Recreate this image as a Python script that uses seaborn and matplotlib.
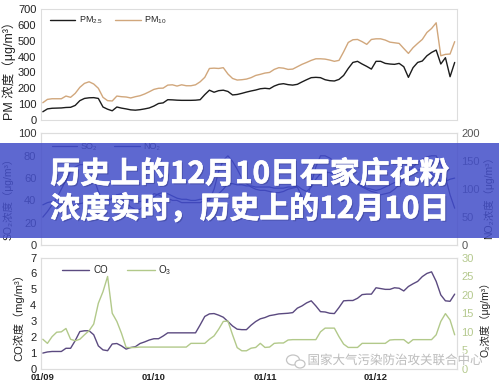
import matplotlib
matplotlib.use('Agg')
import matplotlib.pyplot as plt
import matplotlib.patheffects as pe
from matplotlib.patches import Rectangle, Ellipse
import pandas as pd
import seaborn as sns

# hourly values
pm25 = [52,70,74,75,76,79,80,92,122,136,
        140,141,136,82,68,58,82,75,70,64,
        62,65,70,76,88,104,108,128,127,125,
        124,124,124,125,128,160,188,175,185,188,
        180,158,161,168,176,183,189,197,200,197,
        214,225,229,223,220,225,240,254,267,269,
        267,254,248,246,256,281,325,363,370,353,
        338,321,370,370,357,353,351,357,336,269,
        330,363,372,405,426,441,353,393,273,363]
pm10 = [109,130,134,134,134,151,143,168,206,231,
        241,227,200,143,122,120,151,147,145,139,
        147,153,164,178,193,200,201,220,222,214,
        222,216,216,222,241,269,325,327,325,330,
        290,262,252,254,258,267,281,288,296,300,
        319,330,327,319,321,336,351,363,376,386,
        386,384,378,370,376,430,489,506,508,494,
        477,508,512,512,504,491,487,483,451,420,
        456,483,508,552,577,613,405,414,416,494]
so2 = [25,30,36,42,50,58,66,70,72,72,
       68,60,48,40,38,42,45,42,38,34,
       32,32,36,42,46,45,43,42,40,40,
       38,38,38,38,38,40,40,50,66,76,
       80,75,68,60,55,52,50,49,49,48,
       47,47,48,50,51,52,43,40,55,70,
       80,80,78,75,70,64,60,58,55,52,
       50,48,47,45,46,47,50,54,60,66,
       70,74,77,79,80,80,72,61,45,33]
no2 = [72,76,78,76,72,70,70,72,74,76,
       78,76,74,74,78,84,90,92,86,80,
       78,78,80,82,86,92,94,92,88,84,
       82,82,80,80,82,82,84,86,92,100,
       110,110,108,108,106,106,104,104,104,104,
       102,102,102,104,104,106,100,96,104,118,
       128,130,130,126,122,118,114,112,110,106,
       102,100,98,100,104,108,112,114,118,124,
       130,134,136,134,128,120,114,114,118,120]
co = [1.0,1.07,1.1,1.1,1.1,1.3,1.3,1.78,2.35,2.4,
      2.4,2.15,1.45,1.2,1.15,1.57,1.6,1.45,1.25,1.35,
      1.4,1.6,1.7,1.82,1.9,1.9,2.07,2.27,2.27,2.27,
      2.27,2.27,2.27,2.27,2.77,3.3,3.46,3.48,3.38,3.25,
      2.98,2.7,2.5,2.47,2.47,2.75,2.98,3.15,3.23,3.35,
      3.4,3.46,3.48,3.5,3.54,3.82,3.96,4.15,4.28,3.96,
      3.6,3.58,3.5,3.48,3.86,4.28,4.3,4.3,4.44,4.67,
      4.7,4.7,5.1,5.05,5.0,5.0,5.1,5.07,4.9,5.18,
      5.35,5.5,5.8,6.0,6.1,5.5,4.65,4.28,4.25,4.7]
o3 = [8,6.9,8.7,9.9,10,10.9,8,7.6,8,9.2,
      10.3,12.1,17.7,20.8,24.9,15,12.8,9.6,5.8,5.75,
      5.8,5.9,5.9,5.9,5.9,5.9,5.9,5.9,5.9,5.9,
      5.9,5.9,6.9,6.9,6.9,6.9,8,8.9,10.7,12.8,
      12.9,9.2,5.75,4.9,4.9,5.6,5.8,6.9,5.8,5.9,
      6.9,7,7,7.8,7.9,7.9,7.9,7.9,7.9,7.9,
      10,11,11,11,8.7,6.7,5.8,5.8,5.8,6.9,
      6.9,6.9,6.9,6.9,6.9,7.8,7.9,7.9,7.9,6.9,
      7.9,7.9,7.9,7.9,7.9,9.2,12.8,14.9,13.2,9.2]
hours = list(range(90))
day_labels = ['01/09', '01/10', '01/11', '01/12']
day_hours = [0, 24, 48, 72]
title_lines = ['历史上的12月10日石家庄花粉', '浓度实时，历史上的12月10日']
watermark = '国家大气污染防治攻关联合中心'

W, H = 499, 383
sns.set_theme(style='white')
plt.rcParams['font.family'] = ['Liberation Sans', 'Noto Sans CJK SC', 'DejaVu Sans']
plt.rcParams['mathtext.default'] = 'regular'
plt.rcParams['axes.unicode_minus'] = False

fig = plt.figure(figsize=(W / 100, H / 100), dpi=100)

def panel(top, bottom):
    # pixel box of one panel, same left and right for all three
    a = fig.add_axes([40.5 / W, 1 - bottom / H, (457 - 40.5) / W, (bottom - top) / H])
    return a

def style(a, ymax, step, color='#222222'):
    a.set_xlim(-0.5, 89.5)
    a.set_ylim(0, ymax)
    a.set_yticks(range(0, ymax + 1, step))
    a.tick_params(axis='y', labelsize=8, length=0, pad=3, labelcolor=color)
    a.set_xlabel('')
    a.set_ylabel('')
    for s in a.spines.values():
        s.set_color('#dddddd')
        s.set_linewidth(0.8)

def xticks(a, labels=False):
    a.set_xticks([d - 0.5 for d in day_hours])
    a.set_xticklabels([])
    a.tick_params(axis='x', which='major', length=2.5, width=0.7, color='#cccccc', direction='out')
    if labels:
        a.set_xticks(day_hours, minor=True)
        a.set_xticklabels(day_labels, minor=True, fontsize=6.8, fontweight='bold', color='#222222')
        a.tick_params(axis='x', which='minor', length=0, pad=3)

def draw(a, y, name, color, lw=1.0):
    df = pd.DataFrame({'hour': hours, 'value': y})
    sns.lineplot(data=df, x='hour', y='value', ax=a, color=color, linewidth=lw, label=name, legend=False)

# PM panel
ax1 = panel(9, 120)
draw(ax1, pm25, r'PM$_{2.5}$', '#1c1c1c')
draw(ax1, pm10, r'PM$_{10}$', '#d1a77c')
style(ax1, 700, 100)
xticks(ax1)
h, l = ax1.get_legend_handles_labels()
ax1.legend(h, l, loc='center left', bbox_to_anchor=(0.022, 0.895), frameon=False, ncol=2, fontsize=6.5,
           handlelength=2.8, handletextpad=0.4, columnspacing=1.4, borderaxespad=0, borderpad=0)
fig.text(9 / W, 1 - 68 / H, 'PM 浓度（μg/m³）', rotation=90, fontsize=9, va='center', ha='center', color='#222222')

# SO2 / NO2 panel
ax2 = panel(133.5, 245)
ax2b = ax2.twinx()
draw(ax2, so2, 'SO₂', '#2a1f6e', 0.9)
draw(ax2b, no2, 'NO₂', '#15207a', 0.9)
style(ax2, 100, 20, '#333333')
style(ax2b, 200, 50, '#555555')
xticks(ax2)
h1, l1 = ax2.get_legend_handles_labels()
h2, l2 = ax2b.get_legend_handles_labels()
ax2b.legend(h1 + h2, l1 + l2, loc='center left', bbox_to_anchor=(0.027, 0.885), frameon=False, ncol=2,
            fontsize=6.5, labelcolor='#222222', handlelength=2.8, handletextpad=0.4, columnspacing=1.9,
            borderaxespad=0, borderpad=0)
fig.text(8 / W, 1 - 196 / H, 'SO₂浓度（μg/m³）', rotation=90, fontsize=7.5, va='center', ha='center', color='#222222')
fig.text(489 / W, 1 - 195 / H, 'NO₂浓度（μg/m³）', rotation=90, fontsize=7.5, va='center', ha='center', color='#222222')

# CO / O3 panel
ax3 = panel(257.5, 369)
ax3b = ax3.twinx()
draw(ax3, co, 'CO', '#5b4a80')
draw(ax3b, o3, r'O$_3$', '#b2c98a')
style(ax3, 7, 1)
style(ax3b, 30, 5, '#b5c98e')
xticks(ax3, labels=True)
ax3b.set_xticks([])
h1, l1 = ax3.get_legend_handles_labels()
h2, l2 = ax3b.get_legend_handles_labels()
ax3b.legend(h1 + h2, l1 + l2, loc='center left', bbox_to_anchor=(0.052, 0.885), frameon=False, ncol=2,
            fontsize=7, handlelength=2.8, handletextpad=0.4, columnspacing=2.0, borderaxespad=0, borderpad=0)
fig.text(19 / W, 1 - 315 / H, 'CO浓度（mg/m³）', rotation=90, fontsize=8, va='center', ha='center', color='#222222')
fig.text(485 / W, 1 - 317 / H, 'O₃浓度（μg/m³）', rotation=90, fontsize=7.5, va='center', ha='center', color='#222222')

# watermark
fig.text(395 / W, 1 - 361 / H, watermark, fontsize=9, color='#b4b4b4', alpha=0.85, va='center', ha='center', zorder=6,
         path_effects=[pe.withStroke(linewidth=1.5, foreground='white')])
fig.add_artist(Ellipse((293 / W, 1 - 360 / H), 13 / W, 10 / H, transform=fig.transFigure, fill=False,
                       edgecolor='#c4c4c4', linewidth=0.9, zorder=6))
fig.add_artist(Ellipse((300 / W, 1 - 364 / H), 10 / W, 8 / H, transform=fig.transFigure, facecolor='white',
                       edgecolor='#c4c4c4', linewidth=0.9, zorder=6))

# title band over the middle panel
fig.add_artist(Rectangle((0, 1 - 238.5 / H), 1, 95.5 / H, transform=fig.transFigure, facecolor=(68 / 255, 79 / 255, 201 / 255),
                         alpha=0.86, edgecolor='none', zorder=5))
shadow = [pe.SimplePatchShadow(offset=(1, -1), shadow_rgbFace='#20256a', alpha=0.35),
          pe.withStroke(linewidth=0.5, foreground='white')]
fig.text(250 / W, 1 - 174 / H, title_lines[0], fontsize=21.5, fontweight='bold', color='white', family='Noto Sans CJK SC',
         va='center', ha='center', zorder=7, path_effects=shadow)
fig.text(250 / W, 1 - 209 / H, title_lines[1], fontsize=21.5, fontweight='bold', color='white', family='Noto Sans CJK SC',
         va='center', ha='center', zorder=7, path_effects=shadow)

fig.savefig('out.png', dpi=100)
